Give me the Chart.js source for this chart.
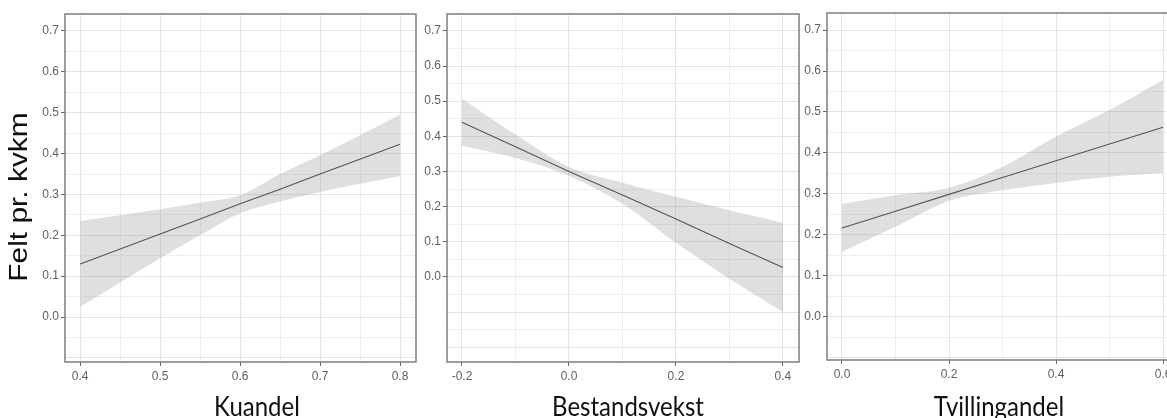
<!DOCTYPE html>
<html>
<head>
<meta charset="utf-8">
<script src="https://cdn.jsdelivr.net/npm/chart.js@4"></script>
<style>
  html, body { margin:0; padding:0; background:#fff; overflow:hidden; width:1167px; height:418px; }
  canvas { position:absolute; top:0; }
</style>
</head>
<body>
<canvas id="c1" width="432" height="418" style="left:0px"></canvas>
<canvas id="c2" width="405" height="418" style="left:410px"></canvas>
<canvas id="c3" width="396" height="418" style="left:790px"></canvas>
<script>
// Kuandel panel
const kuandelX = [0.4, 0.5, 0.55, 0.6, 0.65, 0.7, 0.8];
const kuandelFit = [0.13, 0.203, 0.24, 0.277, 0.313, 0.35, 0.423];
const kuandelUpper = [0.235, 0.264, 0.28, 0.298, 0.35, 0.396, 0.495];
const kuandelLower = [0.025, 0.144, 0.2, 0.254, 0.283, 0.306, 0.345];

// Bestandsvekst panel
const vekstX = [-0.2, -0.1, 0.0, 0.1, 0.2, 0.3, 0.4];
const vekstFit = [0.44, 0.37, 0.3, 0.233, 0.165, 0.095, 0.027];
const vekstUpper = [0.507, 0.405, 0.313, 0.268, 0.228, 0.19, 0.154];
const vekstLower = [0.373, 0.338, 0.287, 0.208, 0.097, -0.005, -0.1];

// Tvillingandel panel
const tvillingX = [0.0, 0.1, 0.2, 0.3, 0.4, 0.5, 0.6];
const tvillingFit = [0.217, 0.258, 0.299, 0.34, 0.381, 0.422, 0.463];
const tvillingUpper = [0.276, 0.297, 0.315, 0.366, 0.44, 0.505, 0.578];
const tvillingLower = [0.159, 0.22, 0.283, 0.309, 0.327, 0.342, 0.351];

const yTickLabels = [0.0, 0.1, 0.2, 0.3, 0.4, 0.5, 0.6, 0.7];
const yTitle = 'Felt pr. kvkm';

const tickFont = { family: '"Liberation Sans", Arial, sans-serif', size: 12 };
const tickColor = '#5f5f5f';

const panelDecor = {
  id: 'panelDecor',
  afterDraw(chart, args, opts) {
    const ctx = chart.ctx, a = chart.chartArea;
    ctx.save();
    ctx.strokeStyle = '#7d7d7d';
    ctx.lineWidth = 1.5;
    ctx.strokeRect(a.left, a.top, a.right - a.left, a.bottom - a.top);
    ctx.fillStyle = '#111';
    ctx.textAlign = 'center';
    ctx.textBaseline = 'alphabetic';
    ctx.font = '24px Lato, sans-serif';
    ctx.save();
    ctx.translate(opts.xTitleX, 416);
    ctx.scale(1, 1.12);
    ctx.fillText(opts.xTitle, 0, 0);
    ctx.restore();
    if (opts.yTitle) {
      ctx.save();
      ctx.font = '26px "Liberation Sans", Arial, sans-serif';
      ctx.textBaseline = 'middle';
      ctx.translate(20, 197);
      ctx.scale(1, 1.15);
      ctx.rotate(-Math.PI / 2);
      ctx.fillText(opts.yTitle, 0, 0);
      ctx.restore();
    }
    ctx.restore();
  }
};

function makeTicks(min, max, step) {
  const out = [];
  const start = Math.ceil(min / step - 1e-9);
  const end = Math.floor(max / step + 1e-9);
  for (let i = start; i <= end; i++) out.push({ value: +(i * step).toFixed(4) });
  return out;
}

function isLabelled(v, list) {
  return list.some(t => Math.abs(t - v) < 1e-6);
}

function panel(id, xs, fit, upper, lower, cfg) {
  const pts = arr => xs.map((x, i) => ({ x: x, y: arr[i] }));
  return new Chart(document.getElementById(id), {
    type: 'line',
    data: {
      datasets: [
        { data: pts(fit), borderColor: '#555', borderWidth: 1.1, pointRadius: 0, fill: false },
        { data: pts(upper), borderWidth: 0, borderColor: 'rgba(0,0,0,0)', pointRadius: 0,
          fill: '+1', backgroundColor: 'rgba(150,150,150,0.3)', cubicInterpolationMode: 'monotone' },
        { data: pts(lower), borderWidth: 0, borderColor: 'rgba(0,0,0,0)', pointRadius: 0, fill: false,
          cubicInterpolationMode: 'monotone' }
      ]
    },
    options: {
      responsive: false,
      animation: false,
      layout: { padding: { left: cfg.padLeft, right: 16, top: cfg.top, bottom: 0 } },
      plugins: {
        legend: { display: false },
        tooltip: { enabled: false },
        panelDecor: { xTitle: cfg.xTitle, xTitleX: cfg.xTitleX, yTitle: cfg.yTitle }
      },
      scales: {
        x: {
          type: 'linear',
          min: cfg.xMin, max: cfg.xMax,
          afterBuildTicks: s => { s.ticks = makeTicks(cfg.xMin, cfg.xMax, cfg.xGrid); },
          afterFit: s => { s.height = cfg.xAxisH; },
          ticks: {
            font: tickFont, color: tickColor, padding: 3, maxRotation: 0, autoSkip: false,
            callback: v => isLabelled(v, cfg.xLabels) ? v.toFixed(1) : ''
          },
          grid: {
            color: c => isLabelled(c.tick.value, cfg.xLabels) ? '#e4e4e4' : '#eeeeee',
            lineWidth: 1,
            tickLength: 4,
            tickColor: c => isLabelled(c.tick.value, cfg.xLabels) ? '#666' : 'rgba(0,0,0,0)'
          },
          border: { display: false }
        },
        y: {
          type: 'linear',
          min: cfg.yMin, max: cfg.yMax,
          afterBuildTicks: s => { s.ticks = makeTicks(cfg.yMin, cfg.yMax, 0.05); },
          afterFit: s => { s.width = 30; },
          ticks: {
            font: tickFont, color: tickColor, padding: 2, autoSkip: false,
            callback: v => isLabelled(v, yTickLabels) ? v.toFixed(1) : ''
          },
          grid: {
            color: c => Math.abs(c.tick.value * 10 - Math.round(c.tick.value * 10)) < 1e-6 ? '#e4e4e4' : '#eeeeee',
            lineWidth: 1,
            tickLength: 4,
            tickColor: c => isLabelled(c.tick.value, yTickLabels) ? '#666' : 'rgba(0,0,0,0)'
          },
          border: { display: false }
        }
      }
    },
    plugins: [panelDecor]
  });
}

panel('c1', kuandelX, kuandelFit, kuandelUpper, kuandelLower, {
  padLeft: 35, top: 14, xAxisH: 56,
  xMin: 0.381, xMax: 0.82, xGrid: 0.05,
  xLabels: [0.4, 0.5, 0.6, 0.7, 0.8],
  yMin: -0.110, yMax: 0.7416,
  xTitle: 'Kuandel', xTitleX: 257, yTitle: yTitle
});

panel('c2', vekstX, vekstFit, vekstUpper, vekstLower, {
  padLeft: 7, top: 14, xAxisH: 56,
  xMin: -0.228, xMax: 0.43, xGrid: 0.1,
  xLabels: [-0.2, 0.0, 0.2, 0.4],
  yMin: -0.242, yMax: 0.748,
  xTitle: 'Bestandsvekst', xTitleX: 218
});

panel('c3', tvillingX, tvillingFit, tvillingUpper, tvillingLower, {
  padLeft: 7, top: 13, xAxisH: 58,
  xMin: -0.028, xMax: 0.613, xGrid: 0.1,
  xLabels: [0.0, 0.2, 0.4, 0.6],
  yMin: -0.105, yMax: 0.7415,
  xTitle: 'Tvillingandel', xTitleX: 209
});
</script>
</body>
</html>
